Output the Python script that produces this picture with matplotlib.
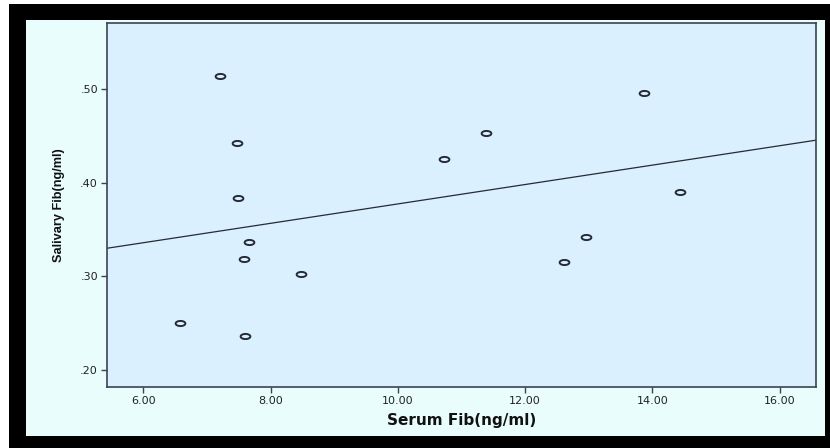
import numpy as np
import matplotlib

matplotlib.use("Agg")
import matplotlib.pyplot as plt
from matplotlib.path import Path
from matplotlib.patches import Rectangle

# ----------------------------------------------------------------------
# Dados
# ----------------------------------------------------------------------
serum_fib = [6.57, 7.20, 7.47, 7.49, 7.66, 7.59, 7.60, 8.48,
             10.72, 11.38, 12.61, 12.95, 13.86, 14.44]
salivary_fib = [0.250, 0.514, 0.442, 0.384, 0.337, 0.318, 0.236, 0.303,
                0.425, 0.453, 0.315, 0.342, 0.496, 0.390]

# reta de ajuste (inclinação, intercepto)
fit_slope, fit_intercept = 0.01036, 0.2737

x_ticks = [6, 8, 10, 12, 14, 16]
y_ticks = [0.20, 0.30, 0.40, 0.50]

COR_ESCURA = "#262A36"
COR_FUNDO = "#EAFDFD"
COR_PLOT = "#DBF0FE"

fig = plt.figure(figsize=(8.3, 4.48), dpi=100)
fig.patch.set_facecolor("white")

# moldura preta e fundo ciano claro
fig.patches.append(Rectangle((9 / 830, 0), 821 / 830, 444 / 448,
                             transform=fig.transFigure, facecolor="black",
                             edgecolor="none", zorder=-2))
fig.patches.append(Rectangle((26 / 830, 12 / 448), 799 / 830, 416 / 448,
                             transform=fig.transFigure, facecolor=COR_FUNDO,
                             edgecolor="none", zorder=-1))

ax = fig.add_axes([107 / 830, 61 / 448, 709 / 830, 364 / 448])
ax.set_facecolor(COR_PLOT)

# marcador em elipse (o original está esticado na horizontal)
t = np.linspace(0, 2 * np.pi, 60)
elipse = Path(np.column_stack([1.9 * np.cos(t), np.sin(t)]), closed=True)

ax.plot(serum_fib, salivary_fib, linestyle="none", marker=elipse,
        markersize=7, markerfacecolor="none", markeredgecolor=COR_ESCURA,
        markeredgewidth=1.4, zorder=3)

ax.axline((0, fit_intercept), slope=fit_slope, color=COR_ESCURA, lw=0.9, zorder=2)

ax.set_xlim(5.43, 16.57)
ax.set_ylim(0.1818, 0.5705)
ax.set_xticks(x_ticks)
ax.set_xticklabels([f"{v:.2f}" for v in x_ticks])
ax.set_yticks(y_ticks)
ax.set_yticklabels([f"{v:.2f}".lstrip("0") for v in y_ticks])

for lado in ax.spines.values():
    lado.set_color("#3C4252")
    lado.set_linewidth(1.2)

ax.tick_params(direction="out", length=4.5, width=1.0, color="#3C4252",
               labelsize=8, labelcolor="#222222", pad=2)
for rot in ax.get_xticklabels() + ax.get_yticklabels():
    rot.set_family("DejaVu Sans")

ax.set_xlabel("Serum Fib(ng/ml)", fontsize=11, fontweight="bold",
              family="DejaVu Sans", color="#111111", labelpad=5)
ax.set_ylabel("Salivary Fib(ng/ml)", fontsize=9.2, fontweight="bold",
              family=["Liberation Sans Narrow", "Liberation Sans"],
              color="#111111", labelpad=11)

fig.savefig("out.png", dpi=100)
